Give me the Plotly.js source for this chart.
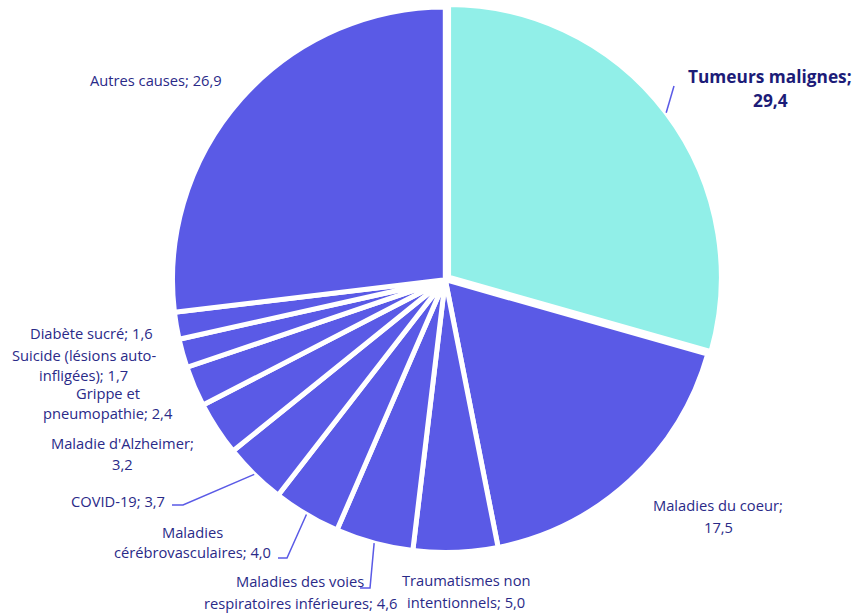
<!DOCTYPE html>
<html>
<head>
<meta charset="utf-8">
<script src="https://cdn.plot.ly/plotly-3.0.1.min.js"></script>
<style>html,body{margin:0;padding:0;background:#fff;}#chart{width:856px;height:613px;}</style>
</head>
<body>
<div id="chart"></div>
<script>
// ---- data ----
const categories = ["Tumeurs malignes", "Maladies du coeur", "Traumatismes non intentionnels",
  "Maladies des voies respiratoires inférieures", "Maladies cérébrovasculaires", "COVID-19",
  "Maladie d'Alzheimer", "Grippe et pneumopathie", "Suicide (lésions auto-infligées)",
  "Diabète sucré", "Autres causes"];
const values = [29.4, 17.5, 5.0, 4.6, 4.0, 3.7, 3.2, 2.4, 1.7, 1.6, 26.9];
const labelTemplates = ["Tumeurs malignes;|{v}", "Maladies du coeur;|{v}", "Traumatismes non|intentionnels; {v}",
  "Maladies des voies|respiratoires inférieures; {v}", "Maladies|cérébrovasculaires; {v}", "COVID-19; {v}",
  "Maladie d'Alzheimer;|{v}", "Grippe et|pneumopathie; {v}", "Suicide (lésions auto-|infligées); {v}",
  "Diabète sucré; {v}", "Autres causes; {v}"];

// ---- styles / layout positions ----
const W = 856, H = 613;
const CX = 445.3, CY = 279.7, R = 272.8;
const pulls = [0.015, 0, 0, 0, 0, 0, 0, 0, 0, 0, 0];
const sliceColors = ["#91EFE8", "#5A5AE6", "#5A5AE6", "#5A5AE6", "#5A5AE6", "#5A5AE6", "#5A5AE6", "#5A5AE6", "#5A5AE6", "#5A5AE6", "#5A5AE6"];
const labelX = [770, 718, 466, 300, 192, 117.5, 122.5, 107.5, 83.5, 91.5, 155.5];
const labelY = [76, 505, 580, 581, 532, 501, 443, 393, 355, 333, 80];
const labelGap = [24, 22, 22, 22, 20, 20, 21, 20, 20, 20, 20];
const labelBold = [true, false, false, false, false, false, false, false, false, false, false];
const leaderPts = [[[674, 86]], null, null, [[370, 588], [360, 588]], [[287, 558], [278, 558]],
  [[183, 505], [172, 505]], null, null, null, null, null];

const FONT = "Open Sans, Noto Sans, sans-serif";
const textColor = "#2A2A88", boldColor = "#1C1C78", lineColor = "#5A5AE6";

const fmt = v => v.toFixed(1).replace('.', ',');
const maxPull = Math.max(...pulls);
const half = R * (1 + maxPull);

const trace = {
  type: 'pie', values: values, labels: categories, sort: false, direction: 'clockwise', rotation: 0,
  pull: pulls, textinfo: 'none', hoverinfo: 'label+value',
  marker: {colors: sliceColors, line: {color: '#ffffff', width: 5}},
  domain: {x: [(CX - half) / W, (CX + half) / W], y: [(H - CY - half) / H, (H - CY + half) / H]}
};

const total = values.reduce((a, b) => a + b, 0);
let cum = 0;
const mids = values.map(v => { const a = (cum + v / 2) / total * 2 * Math.PI; cum += v; return a; });

const annotations = [];
const shapes = [];
values.forEach((v, i) => {
  const lines = labelTemplates[i].replace('{v}', fmt(v)).split('|');
  lines.forEach((ln, k) => {
    annotations.push({
      x: labelX[i], y: labelY[i] + k * labelGap[i], xref: 'x', yref: 'y',
      text: labelBold[i] ? '<b>' + ln + '</b>' : ln, showarrow: false,
      xanchor: 'center', yanchor: 'middle',
      font: {family: FONT, size: labelBold[i] ? 17.3 : 14.7, color: labelBold[i] ? boldColor : textColor}
    });
  });
  if (leaderPts[i]) {
    const a = mids[i], pp = pulls[i] * R;
    const sx = CX + (pp + R) * Math.sin(a), sy = CY - (pp + R) * Math.cos(a);
    let p = 'M ' + sx + ',' + sy;
    leaderPts[i].forEach(q => { p += ' L ' + q[0] + ',' + q[1]; });
    shapes.push({type: 'path', path: p, xref: 'x', yref: 'y', line: {color: lineColor, width: 1.5}});
  }
});

const layout = {
  width: W, height: H, margin: {l: 0, r: 0, t: 0, b: 0},
  paper_bgcolor: '#ffffff', plot_bgcolor: 'rgba(0,0,0,0)', showlegend: false,
  xaxis: {range: [0, W], visible: false, fixedrange: true},
  yaxis: {range: [H, 0], visible: false, fixedrange: true},
  annotations: annotations, shapes: shapes,
  font: {family: FONT}
};
Plotly.newPlot('chart', [trace], layout, {displayModeBar: false, staticPlot: true});
</script>
</body>
</html>
